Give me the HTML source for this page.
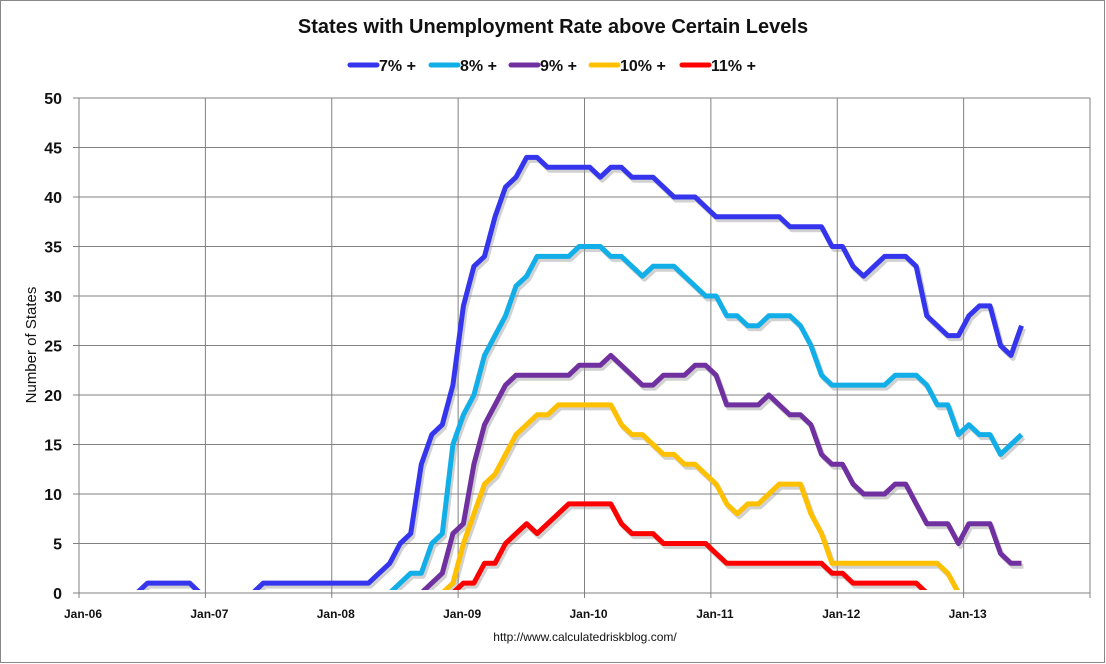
<!DOCTYPE html>
<html><head><meta charset="utf-8"><style>
html,body{margin:0;padding:0;background:#fff;}
svg{display:block;font-family:"Liberation Sans",Arial,sans-serif;}
</style></head><body>
<svg id="chart" width="1106" height="664" viewBox="0 0 1106 664">
<rect x="0.5" y="0.5" width="1104" height="662" fill="#fff" stroke="#888"/>
<text x="553" y="33" text-anchor="middle" font-size="20" font-weight="bold" fill="#111">States with Unemployment Rate above Certain Levels</text>
<text transform="translate(36,345) rotate(-90)" text-anchor="middle" font-size="15" fill="#111">Number of States</text>
<text x="585" y="641" text-anchor="middle" font-size="12" fill="#111">http://www.calculatedriskblog.com/</text>
<g id="grid"></g>
<g id="legend"></g>
<g id="series"></g>
<defs><clipPath id="clip"><rect x="79" y="90" width="1020" height="500"/></clipPath></defs>
</svg>
<script>
const xTickLabels = ["Jan-06","Jan-07","Jan-08","Jan-09","Jan-10","Jan-11","Jan-12","Jan-13"];
const yTicks = [0,5,10,15,20,25,30,35,40,45,50];
const seriesNames = ["7% +","8% +","9% +","10% +","11% +"];
const seriesColors = ["#3535ee","#12aee8","#7030a0","#ffc000","#ff0000"];
// monthly values starting Jan-06 (index 0)
const s7 = [0,0,0,0,0,0,1,1,1,1,1,0,0,0,0,0,0,1,1,1,1,1,1,1,1,1,1,1,2,3,5,6,13,16,17,21,29,33,34,38,41,42,44,44,43,43,43,43,43,42,43,43,42,42,42,41,40,40,40,39,38,38,38,38,38,38,38,37,37,37,37,35,35,33,32,33,34,34,34,33,28,27,26,26,28,29,29,25,24,27];
const s8 = [0,0,0,0,0,0,0,0,0,0,0,0,0,0,0,0,0,0,0,0,0,0,0,0,0,0,0,0,0,0,1,2,2,5,6,15,18,20,24,26,28,31,32,34,34,34,34,35,35,35,34,34,33,32,33,33,33,32,31,30,30,28,28,27,27,28,28,28,27,25,22,21,21,21,21,21,21,22,22,22,21,19,19,16,17,16,16,14,15,16];
const s9 = [0,0,0,0,0,0,0,0,0,0,0,0,0,0,0,0,0,0,0,0,0,0,0,0,0,0,0,0,0,0,0,0,0,1,2,6,7,13,17,19,21,22,22,22,22,22,22,23,23,23,24,23,22,21,21,22,22,22,23,23,22,19,19,19,19,20,19,18,18,17,14,13,13,11,10,10,10,11,11,9,7,7,7,5,7,7,7,4,3,3];
const s10 = [0,0,0,0,0,0,0,0,0,0,0,0,0,0,0,0,0,0,0,0,0,0,0,0,0,0,0,0,0,0,0,0,0,0,0,1,5,8,11,12,14,16,17,18,18,19,19,19,19,19,19,17,16,16,15,14,14,13,13,12,11,9,8,9,9,10,11,11,11,8,6,3,3,3,3,3,3,3,3,3,3,3,2,0,0,0,0,0,0,0];
const s11 = [0,0,0,0,0,0,0,0,0,0,0,0,0,0,0,0,0,0,0,0,0,0,0,0,0,0,0,0,0,0,0,0,0,0,0,0,1,1,3,3,5,6,7,6,7,8,9,9,9,9,9,7,6,6,6,5,5,5,5,5,4,3,3,3,3,3,3,3,3,3,3,2,2,1,1,1,1,1,1,1,0,0,0,0,0,0,0,0,0,0];
const allSeries = [s7,s8,s9,s10,s11];

const NS="http://www.w3.org/2000/svg";
const L=79,R=1090,T=98,B=593,MONTHS=96;
const xScale = i => L + (i+0.5)*(R-L)/MONTHS;
const yScale = v => B - v*(B-T)/50;
function mk(tag,attrs,parent){const e=document.createElementNS(NS,tag);for(const k in attrs)e.setAttribute(k,attrs[k]);parent.appendChild(e);return e;}
const grid=document.getElementById('grid');
yTicks.forEach(v=>{
  const y=yScale(v);
  const ln=mk('line',{x1:73,x2:R,y1:y,y2:y,stroke:'#808080','stroke-width':1},grid);
  
  
  const t=mk('text',{x:62,y:y+6,'text-anchor':'end','font-size':16,'font-weight':'bold',fill:'#111'},grid);
  t.textContent=v;
  
  
});
for(let k=0;k<=8;k++){
  const x=L+k*(R-L)/8;
  const ln=mk('line',{x1:x,x2:x,y1:T,y2:B+5,stroke:'#808080','stroke-width':1},grid);
  
  
  if(k<xTickLabels.length){
    const t=mk('text',{x:x+4,y:618,'text-anchor':'middle','font-size':12,'font-weight':'bold',fill:'#111'},grid);
    t.textContent=xTickLabels[k];
    
    
  }
}
const sg=document.getElementById('series');
sg.setAttribute('clip-path','url(#clip)');
allSeries.forEach((arr,si)=>{
  const pts=arr.map((v,i)=>xScale(i).toFixed(1)+','+yScale(v).toFixed(1)).join(' ');
  const sh=mk('polyline',{points:pts,fill:'none',stroke:'#999','stroke-opacity':0.45,'stroke-width':5,'stroke-linejoin':'round',transform:'translate(2,3)'},sg);
  
  
  const p=mk('polyline',{points:pts,fill:'none',stroke:seriesColors[si],'stroke-width':5,'stroke-linejoin':'round'},sg);
  
  
});
const lg=document.getElementById('legend');
const lx=[350,431,511,591,682];
seriesNames.forEach((n,i)=>{
  const ln=mk('line',{x1:lx[i],x2:lx[i]+27,y1:65,y2:65,stroke:seriesColors[i],'stroke-width':5,'stroke-linecap':'round'},lg);
  
  
  const t=mk('text',{x:lx[i]+29,y:71,'font-size':16,'font-weight':'bold',fill:'#111'},lg);
  t.textContent=n;
  
  
});
</script>
</body></html>
